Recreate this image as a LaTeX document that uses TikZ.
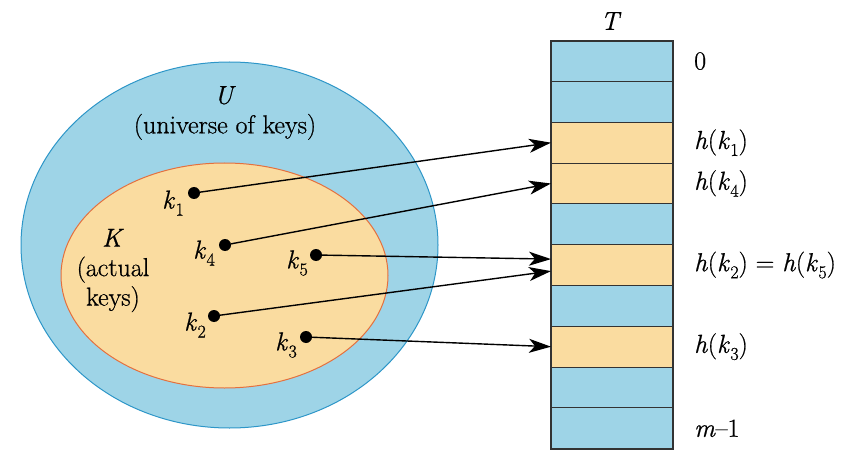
\documentclass[tikz,border=0pt]{standalone}
\usepackage{fontspec}
\setmainfont{Latin Modern Roman}[FakeBold=0.7,Ligatures=TeX]
\usetikzlibrary{shapes.geometric,arrows.meta}
\definecolor{ublue}{RGB}{158,212,231}
\definecolor{uborder}{RGB}{45,150,200}
\definecolor{kfill}{RGB}{250,220,160}
\definecolor{kborder}{RGB}{228,112,62}
\newcommand\kk[1]{\textit{k}\kern0.02em\raisebox{-0.27em}{\fontsize{18}{18}\selectfont #1}}
\begin{document}
\begin{tikzpicture}[x=1pt,y=-1pt,font=\rmfamily\fontsize{26}{29.5}\selectfont,
  cell/.style={draw=black!80,line width=1pt,minimum width=122pt,minimum height=40.8pt,inner sep=0pt,outer sep=0pt},
  dot/.style={circle,fill=black,inner sep=0pt,minimum size=12pt},
  arr/.style={line width=1.4pt,-{Stealth[length=22pt,width=14pt,inset=6pt]}},
  lbl/.style={anchor=west,inner sep=0pt}]
\useasboundingbox (0,0) rectangle (843,457);
% universe and actual keys
\node[ellipse,draw=uborder,fill=ublue,line width=1pt,minimum width=417pt,minimum height=366pt,inner sep=0pt] (U) at (229.5,245) {};
\node[ellipse,draw=kborder,fill=kfill,line width=1pt,minimum width=327pt,minimum height=225pt,inner sep=0pt] (K) at (224.5,275.5) {};
\node[align=center] (Ulbl) at (225,113) {\textit{U}\\(universe of keys)};
\node[align=center] (Klbl) at (113,270.5) {\textit{K}\\(actual\\keys)};
% keys
\node[dot] (d1) at (194,193) {};
\node[dot] (d4) at (225,245) {};
\node[dot] (d5) at (316,255) {};
\node[dot] (d2) at (214,316) {};
\node[dot] (d3) at (306,337) {};
\node (l1) at (173,203) {\kk{1}};
\node (l4) at (204,253) {\kk{4}};
\node (l5) at (297,263) {\kk{5}};
\node (l2) at (195,325) {\kk{2}};
\node (l3) at (286,345) {\kk{3}};
% table
\foreach \i/\c in {0/ublue,1/ublue,2/kfill,3/kfill,4/ublue,5/kfill,6/ublue,7/kfill,8/ublue,9/ublue}
  \node[cell,fill=\c] (r\i) at (612,{61.1+40.8*\i}) {};
\draw[line width=1.8pt,draw=black!80] (r0.north west) rectangle (r9.south east);
\node (T) at (611,21) {\textit{T}};
\node[lbl] (t0) at ([xshift=21pt]r0.east) {0};
\node[lbl] (t2) at ([xshift=21pt]r2.east) {\textit{h}(\kk{1})};
\node[lbl] (t3) at ([xshift=21pt]r3.east) {\textit{h}(\kk{4})};
\node[lbl] (t5) at ([xshift=21pt]r5.east) {\textit{h}(\kk{2}) = \textit{h}(\kk{5})};
\node[lbl] (t7) at ([xshift=21pt]r7.east) {\textit{h}(\kk{3})};
\node[lbl] (t9) at ([xshift=21pt]r9.east) {\textit{m}–1};
% hashing arrows
\draw[arr] (d1) -- (r2.west);
\draw[arr] (d4) -- (r3.west);
\draw[arr] (d5) -- ([yshift=6pt]r5.west);
\draw[arr] (d2) -- ([yshift=-6pt]r5.west);
\draw[arr] (d3) -- (r7.west);
\end{tikzpicture}
\end{document}
